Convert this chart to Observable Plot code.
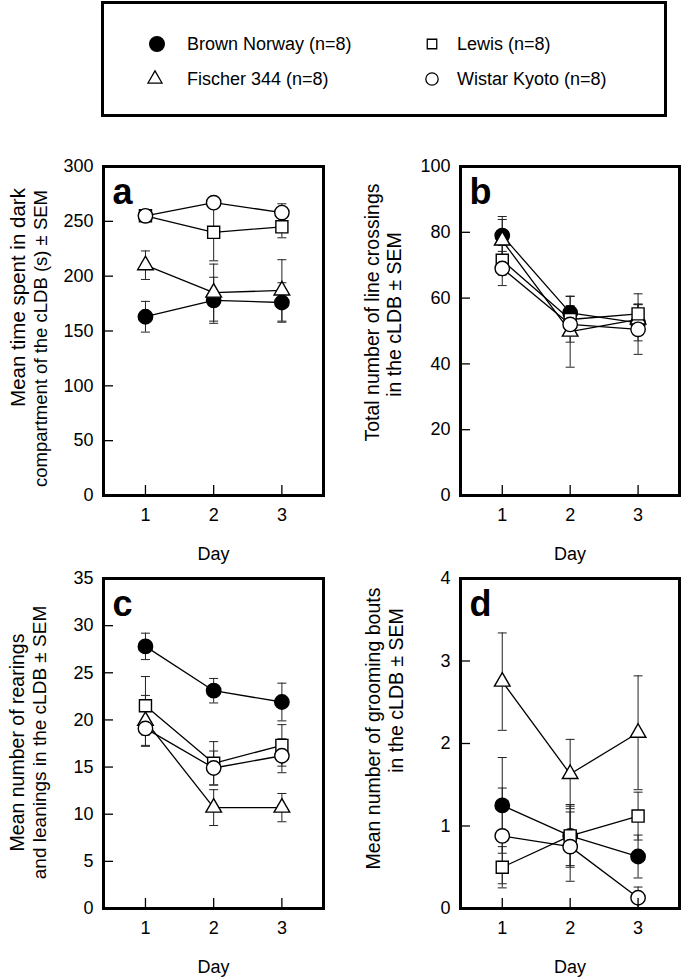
<!DOCTYPE html>
<html><head><meta charset="utf-8">
<script src="https://cdn.jsdelivr.net/npm/d3@7"></script>
<script src="https://cdn.jsdelivr.net/npm/@observablehq/plot@0.6"></script>
<style>
body{margin:0;background:#fff;font-family:"Liberation Sans",Arial,sans-serif;}
#root{position:relative;width:685px;height:979px;overflow:hidden;background:#fff;}
.panel{position:absolute;}
#legend{position:absolute;left:101px;top:1px;width:566px;height:116px;border:3px solid #000;box-sizing:border-box;}
.lg-sym{position:absolute;}
.lg-txt{position:absolute;font-size:18px;line-height:20px;white-space:nowrap;color:#000;}
</style></head><body><div id="root"><div id="legend"></div></div>
<script>
// ---------- data ----------
const days = [1, 2, 3];
const strains = ["Brown Norway (n=8)", "Lewis (n=8)", "Fischer 344 (n=8)", "Wistar Kyoto (n=8)"];

// a: time in dark compartment (s); rows follow strains order
const aMean = [[163, 178, 176], [255, 240, 245], [210, 185, 187], [255, 267, 258]];
const aSem  = [[14, 21, 18], [5, 26, 10], [13, 26, 28], [5, 4, 8]];
const aTicks = [0, 50, 100, 150, 200, 250, 300];
const aTitle = ["Mean time spent in dark", "compartment of the cLDB (s) \u00b1 SEM"];

// b: line crossings
const bMean = [[79, 55.5, 52.5], [71.5, 53.5, 55.2], [77.5, 49.8, 53.5], [69, 52, 50.5]];
const bSem  = [[5.8, 5, 5.5], [4.5, 4.2, 6.1], [6.4, 10.8, 4.7], [5.2, 5.4, 7.6]];
const bTicks = [0, 20, 40, 60, 80, 100];
const bTitle = ["Total number of line crossings", "in the cLDB \u00b1 SEM"];

// c: rearings and leanings
const cMean = [[27.8, 23.1, 21.9], [21.5, 15.4, 17.3], [19.9, 10.7, 10.7], [19.1, 14.9, 16.2]];
const cSem  = [[1.4, 1.3, 2.0], [3.1, 2.3, 2.2], [2.7, 1.9, 1.5], [1.8, 1.8, 1.8]];
const cTicks = [0, 5, 10, 15, 20, 25, 30, 35];
const cTitle = ["Mean number of rearings", "and leanings in the cLDB \u00b1 SEM"];

// d: grooming bouts
const dMean = [[1.25, 0.88, 0.63], [0.5, 0.88, 1.12], [2.75, 1.63, 2.13], [0.88, 0.75, 0.13]];
const dSem  = [[0.58, 0.38, 0.26], [0.25, 0.36, 0.29], [0.59, 0.42, 0.69], [0.58, 0.42, 0.13]];
const dTicks = [0, 1, 2, 3, 4];
const dTitle = ["Mean number of grooming bouts", "in the cLDB \u00b1 SEM"];

const xLabel = "Day";

// ---------- styles ----------
const symbols = ["circle", "square", "triangle", "circle"];
const fills = ["black", "white", "white", "white"];
const radii = [7.2, 6.8, 5.8, 7.2];
const drawOrder = [0, 2, 1, 3];
const FONT = "'Liberation Sans', Arial, sans-serif";
const cap = {draw(ctx) { ctx.moveTo(-4.5, 0); ctx.lineTo(4.5, 0); }};

const root = document.getElementById("root");

function panel(cfg) {
  const rows = [];
  strains.forEach((s, i) => days.forEach((d, j) =>
    rows.push({strain: s, idx: i, day: d, mean: cfg.mean[i][j], sem: cfg.sem[i][j]})));
  const fw = cfg.width - cfg.ml - cfg.mr;
  const fh = cfg.height - cfg.mt - cfg.mb;
  const frameLeftAbs = cfg.left + cfg.ml;
  const frameMidAbs = cfg.top + cfg.mt + fh / 2;
  const marks = [
    Plot.ruleX(rows, {x: "day", y1: d => d.mean - d.sem, y2: d => d.mean + d.sem, stroke: "#222", strokeWidth: 1}),
    Plot.dot(rows, {x: "day", y: d => d.mean - d.sem, symbol: cap, stroke: "#222", strokeWidth: 1}),
    Plot.dot(rows, {x: "day", y: d => d.mean + d.sem, symbol: cap, stroke: "#222", strokeWidth: 1}),
    Plot.line(rows, {x: "day", y: "mean", z: "strain", stroke: "black", strokeWidth: 1.3})
  ];
  drawOrder.forEach(i => marks.push(
    Plot.dot(rows.filter(r => r.idx === i), {x: "day", y: "mean", symbol: symbols[i], r: radii[i],
      fill: fills[i], stroke: "black", strokeWidth: 1.4})));
  marks.push(
    Plot.tickX(days, {x: d => d, insetTop: fh - 10, stroke: "black", strokeWidth: 1.3}),
    Plot.tickY(cfg.ticks, {y: d => d, insetRight: fw - 10, stroke: "black", strokeWidth: 1.3}),
    Plot.frame({stroke: "black", strokeWidth: 3}),
    Plot.axisX({ticks: days, tickSize: 0, tickPadding: 13, fontSize: 18, label: null, tickFormat: d => String(d)}),
    Plot.axisY({ticks: cfg.ticks, tickSize: 0, tickPadding: 10, fontSize: 18, label: null, tickFormat: d => String(d)}),
    Plot.text([xLabel], {text: d => d, frameAnchor: "bottom", dy: 52, lineAnchor: "top", fontSize: 18}),
    Plot.text([cfg.letter], {text: d => d, frameAnchor: "top-left", dx: 9, dy: 12, textAnchor: "start",
      lineAnchor: "top", fontSize: 36, fontWeight: "bold"}),
    Plot.text([cfg.title[0]], {text: d => d, frameAnchor: "left", dx: cfg.t1[0] - frameLeftAbs,
      dy: cfg.t1[1] - frameMidAbs, rotate: -90, textAnchor: "middle", lineAnchor: "middle", fontSize: cfg.t1[2]}),
    Plot.text([cfg.title[1]], {text: d => d, frameAnchor: "left", dx: cfg.t2[0] - frameLeftAbs,
      dy: cfg.t2[1] - frameMidAbs, rotate: -90, textAnchor: "middle", lineAnchor: "middle", fontSize: cfg.t2[2]})
  );
  const svg = Plot.plot({
    width: cfg.width, height: cfg.height,
    marginLeft: cfg.ml, marginRight: cfg.mr, marginTop: cfg.mt, marginBottom: cfg.mb,
    x: {domain: [0.385, 3.61]},
    y: {domain: cfg.domain},
    style: {fontFamily: FONT, background: "transparent", overflow: "visible", color: "black"},
    marks
  });
  svg.classList.add("panel");
  svg.style.left = cfg.left + "px";
  svg.style.top = cfg.top + "px";
  root.appendChild(svg);
}

const L = {left: 0, width: 342, ml: 103, mr: 19};
const R = {left: 342, width: 343, ml: 118, mr: 6};
const T = {top: 120, height: 450, mt: 46, mb: 75};
const B = {top: 570, height: 409, mt: 8, mb: 71};

panel({...L, ...T, mean: aMean, sem: aSem, ticks: aTicks, domain: [0, 300], letter: "a", title: aTitle, t1: [18, 297, 20.5], t2: [41, 338, 18.5]});
panel({...R, ...T, mean: bMean, sem: bSem, ticks: bTicks, domain: [0, 100], letter: "b", title: bTitle, t1: [372, 312, 19.5], t2: [394, 314, 19.5]});
panel({...L, ...B, mean: cMean, sem: cSem, ticks: cTicks, domain: [0, 35], letter: "c", title: cTitle, t1: [17, 742, 19.5], t2: [39, 742, 19]});
panel({...R, ...B, mean: dMean, sem: dSem, ticks: dTicks, domain: [0, 4], letter: "d", title: dTitle, t1: [373, 728, 19.5], t2: [396, 690, 19.5]});

// ---------- legend ----------
const legend = document.getElementById("legend");
const lgPos = [[157, 43.5, 187], [432, 43.5, 457], [155, 78.5, 187], [432, 78.5, 457]];
const lgSize = [170, 90, 85, 120];
const symMap = {circle: d3.symbolCircle, square: d3.symbolSquare, triangle: d3.symbolTriangle};
strains.forEach((name, i) => {
  const [cx, cy, tx] = lgPos[i];
  const s = document.createElementNS("http://www.w3.org/2000/svg", "svg");
  s.setAttribute("width", 24); s.setAttribute("height", 24);
  s.setAttribute("class", "lg-sym");
  s.style.left = (cx - 101 - 3 - 12) + "px";
  s.style.top = (cy - 1 - 3 - 12) + "px";
  const p = document.createElementNS("http://www.w3.org/2000/svg", "path");
  p.setAttribute("d", d3.symbol(symMap[symbols[i]], lgSize[i])());
  p.setAttribute("transform", "translate(12,12)");
  p.setAttribute("fill", fills[i]);
  p.setAttribute("stroke", "black");
  p.setAttribute("stroke-width", 1.3);
  s.appendChild(p);
  legend.appendChild(s);
  const t = document.createElement("div");
  t.className = "lg-txt";
  t.textContent = name;
  t.style.left = (tx - 101 - 3) + "px";
  t.style.top = (cy - 10 - 1 - 3) + "px";
  legend.appendChild(t);
});
</script></body></html>
